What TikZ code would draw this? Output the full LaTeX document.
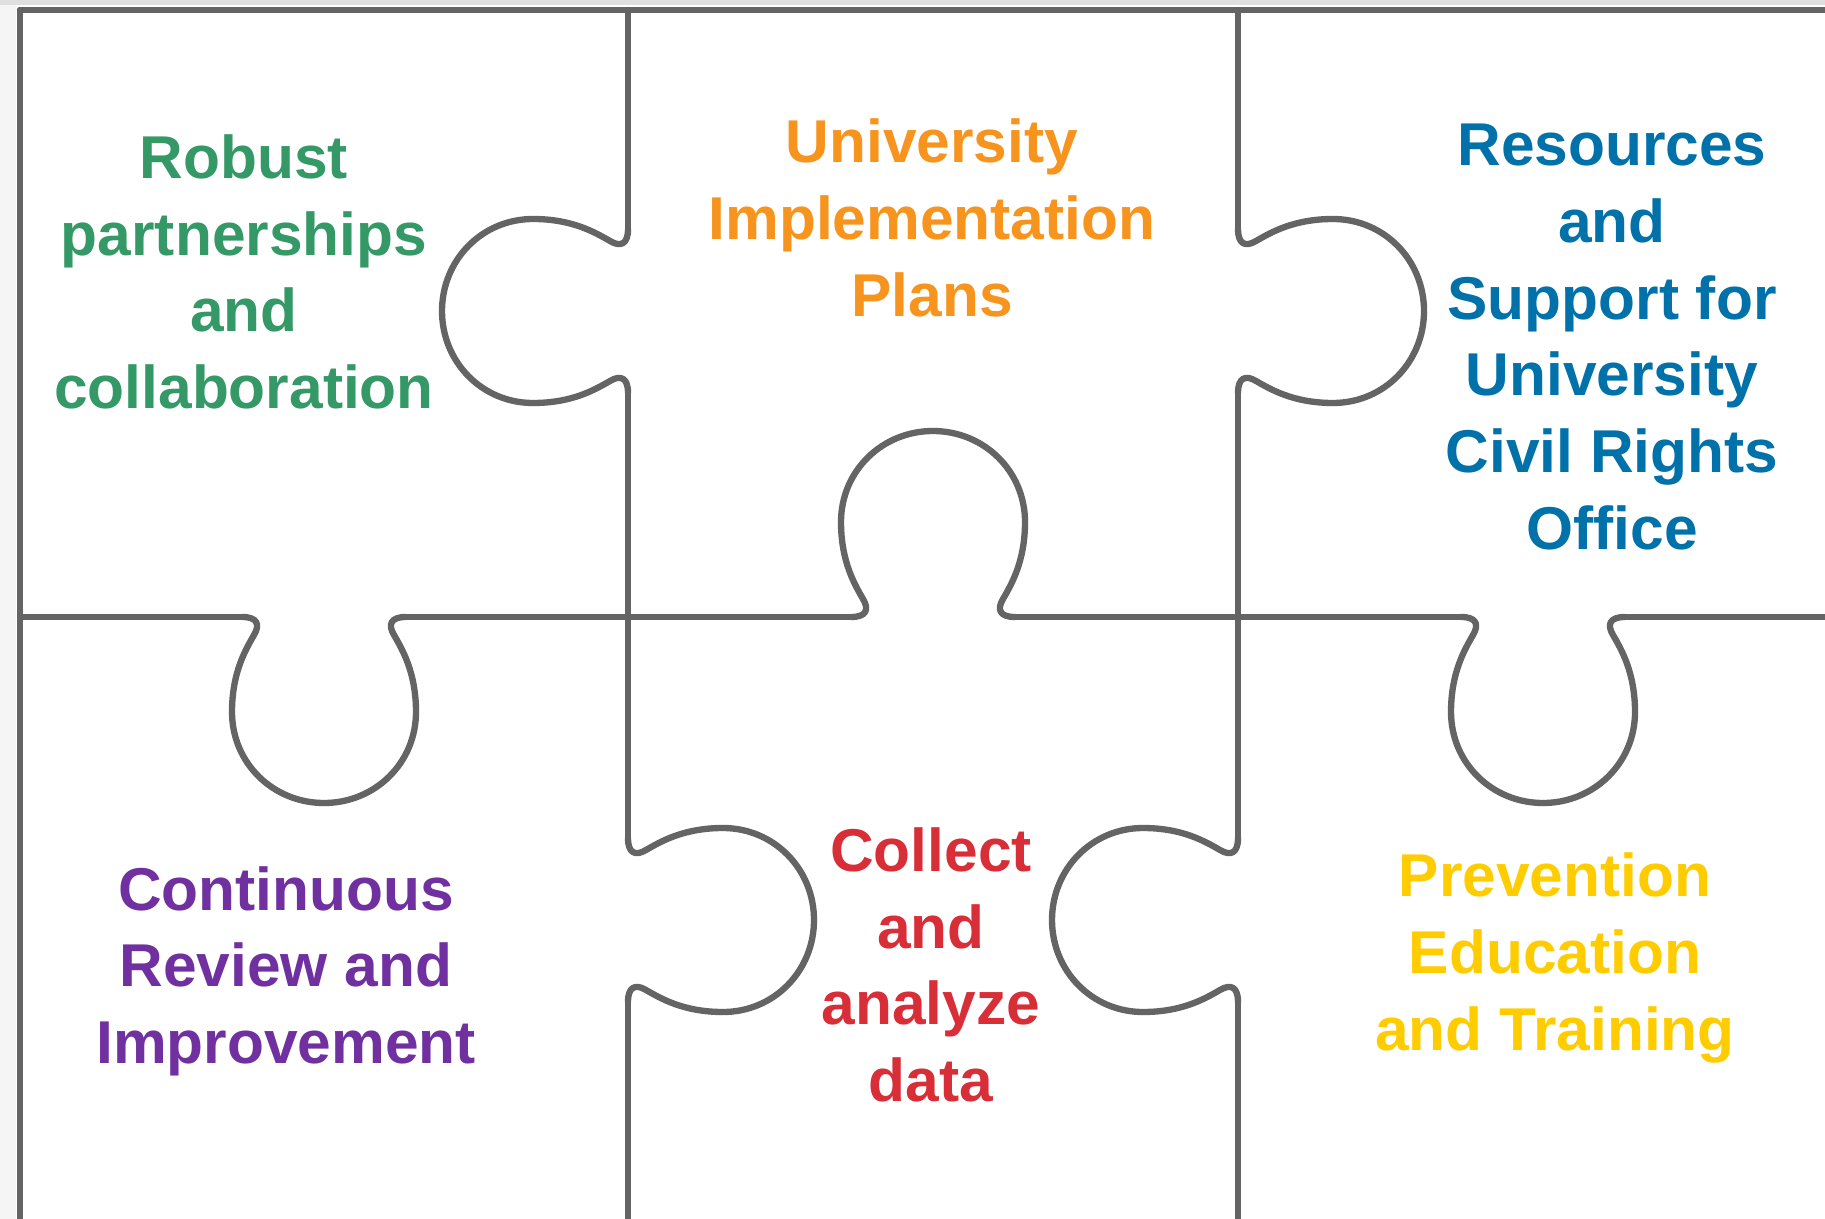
\documentclass[tikz,border=0pt]{standalone}
\usepackage{fontspec}
\setmainfont{Liberation Sans}
\definecolor{edge}{RGB}{100,100,100}
\definecolor{teamgreen}{RGB}{52,153,102}
\definecolor{planorange}{RGB}{247,148,30}
\definecolor{officeblue}{RGB}{0,113,169}
\definecolor{reviewpurple}{RGB}{112,48,160}
\definecolor{datared}{RGB}{216,46,56}
\definecolor{trainyellow}{RGB}{255,204,0}

\begin{document}
\begin{tikzpicture}
    \tikzstyle{line} = [draw, edge, line width=1.8pt, line cap=round, line join=round]
    \tikzstyle{word} = [align=center, inner sep=0pt,
        font=\fontsize{17.2}{21.8}\selectfont\bfseries]

    \useasboundingbox (0,0) rectangle (18.25,-12.19);
    \fill [white] (0,0) rectangle (18.25,-12.19);
    \fill [gray!8] (0,0) rectangle (0.16,-12.19);
    \fill [gray!25] (0,0) rectangle (18.25,-0.05);
    %
    \coordinate (tl) at (0.2,-0.1);
    \coordinate [right of=tl, node distance=6.08cm] (t1);
    \coordinate [right of=t1, node distance=6.1cm] (t2);
    \coordinate [right of=tl, node distance=18.05cm] (tr);
    \coordinate [below of=tl, node distance=6.07cm] (ml);
    \coordinate [below of=t1, node distance=6.07cm] (m1);
    \coordinate [below of=t2, node distance=6.07cm] (m2);
    \coordinate [right of=ml, node distance=18.05cm] (mr);
    \coordinate [below of=tl, node distance=12.09cm] (bl);
    \coordinate [below of=t1, node distance=12.09cm] (b1);
    \coordinate [below of=t2, node distance=12.09cm] (b2);
    %
    \coordinate [below of=t1, node distance=3.01cm] (k1);
    \coordinate [below of=t2, node distance=3.01cm] (k2);
    \coordinate [right of=m1, node distance=3.05cm] (k3);
    \coordinate [right of=ml, node distance=3.04cm] (k4);
    \coordinate [right of=m2, node distance=3.05cm] (k5);
    \coordinate [below of=m1, node distance=3.03cm] (k6);
    \coordinate [below of=m2, node distance=3.03cm] (k7);
    %
    \coordinate [above of=k1, node distance=.82cm] (k1a);
    \coordinate [below of=k1, node distance=.82cm] (k1b);
    \coordinate [above of=k2, node distance=.82cm] (k2a);
    \coordinate [below of=k2, node distance=.82cm] (k2b);
    \coordinate [left of=k3, node distance=.82cm] (k3a);
    \coordinate [right of=k3, node distance=.82cm] (k3b);
    \coordinate [left of=k4, node distance=.82cm] (k4a);
    \coordinate [right of=k4, node distance=.82cm] (k4b);
    \coordinate [left of=k5, node distance=.82cm] (k5a);
    \coordinate [right of=k5, node distance=.82cm] (k5b);
    \coordinate [above of=k6, node distance=.82cm] (k6a);
    \coordinate [below of=k6, node distance=.82cm] (k6b);
    \coordinate [above of=k7, node distance=.82cm] (k7a);
    \coordinate [below of=k7, node distance=.82cm] (k7b);
    %
    \path [line] (tl) -- (tr);
    \path [line] (tl) -- (bl);
    \path [line] (t1) -- (k1a);
    \path [line] (k1b) -- (k6a);
    \path [line] (k6b) -- (b1);
    \path [line] (t2) -- (k2a);
    \path [line] (k2b) -- (k7a);
    \path [line] (k7b) -- (b2);
    \path [line] (ml) -- (k4a);
    \path [line] (k4b) -- (k3a);
    \path [line] (k3b) -- (k5a);
    \path [line] (k5b) -- (mr);
    %
    \path [line, shift={(k1)}, rotate=90] (-.82,0) .. controls (-.66,0) and (-.64,.08) .. (-.70,.18)
        .. controls (-.78,.32) and (-.92,.55) .. (-.92,.95) .. controls (-.92,1.46) and (-.51,1.86) .. (0,1.86)
        .. controls (.51,1.86) and (.92,1.46) .. (.92,.95) .. controls (.92,.55) and (.78,.32) .. (.70,.18)
        .. controls (.64,.08) and (.66,0) .. (.82,0);
    \path [line, shift={(k2)}, rotate=-90] (-.82,0) .. controls (-.66,0) and (-.64,.08) .. (-.70,.18)
        .. controls (-.78,.32) and (-.92,.55) .. (-.92,.95) .. controls (-.92,1.46) and (-.51,1.86) .. (0,1.86)
        .. controls (.51,1.86) and (.92,1.46) .. (.92,.95) .. controls (.92,.55) and (.78,.32) .. (.70,.18)
        .. controls (.64,.08) and (.66,0) .. (.82,0);
    \path [line, shift={(k3)}] (-.82,0) .. controls (-.66,0) and (-.64,.08) .. (-.70,.18)
        .. controls (-.78,.32) and (-.92,.55) .. (-.92,.95) .. controls (-.92,1.46) and (-.51,1.86) .. (0,1.86)
        .. controls (.51,1.86) and (.92,1.46) .. (.92,.95) .. controls (.92,.55) and (.78,.32) .. (.70,.18)
        .. controls (.64,.08) and (.66,0) .. (.82,0);
    \path [line, shift={(k4)}, rotate=180] (-.82,0) .. controls (-.66,0) and (-.64,.08) .. (-.70,.18)
        .. controls (-.78,.32) and (-.92,.55) .. (-.92,.95) .. controls (-.92,1.46) and (-.51,1.86) .. (0,1.86)
        .. controls (.51,1.86) and (.92,1.46) .. (.92,.95) .. controls (.92,.55) and (.78,.32) .. (.70,.18)
        .. controls (.64,.08) and (.66,0) .. (.82,0);
    \path [line, shift={(k5)}, rotate=180] (-.82,0) .. controls (-.66,0) and (-.64,.08) .. (-.70,.18)
        .. controls (-.78,.32) and (-.92,.55) .. (-.92,.95) .. controls (-.92,1.46) and (-.51,1.86) .. (0,1.86)
        .. controls (.51,1.86) and (.92,1.46) .. (.92,.95) .. controls (.92,.55) and (.78,.32) .. (.70,.18)
        .. controls (.64,.08) and (.66,0) .. (.82,0);
    \path [line, shift={(k6)}, rotate=-90] (-.82,0) .. controls (-.66,0) and (-.64,.08) .. (-.70,.18)
        .. controls (-.78,.32) and (-.92,.55) .. (-.92,.95) .. controls (-.92,1.46) and (-.51,1.86) .. (0,1.86)
        .. controls (.51,1.86) and (.92,1.46) .. (.92,.95) .. controls (.92,.55) and (.78,.32) .. (.70,.18)
        .. controls (.64,.08) and (.66,0) .. (.82,0);
    \path [line, shift={(k7)}, rotate=90] (-.82,0) .. controls (-.66,0) and (-.64,.08) .. (-.70,.18)
        .. controls (-.78,.32) and (-.92,.55) .. (-.92,.95) .. controls (-.92,1.46) and (-.51,1.86) .. (0,1.86)
        .. controls (.51,1.86) and (.92,1.46) .. (.92,.95) .. controls (.92,.55) and (.78,.32) .. (.70,.18)
        .. controls (.64,.08) and (.66,0) .. (.82,0);
    %
    \node [word, text=teamgreen] (partner) at (2.44,-2.72) {Robust\\partnerships\\and\\collaboration};
    \node [word, text=planorange] (plans) at (9.32,-2.18) {University\\Implementation\\Plans};
    \node [word, text=officeblue] (office) at (16.12,-3.37) {Resources\\and\\Support for\\University\\Civil Rights\\Office};
    \node [word, text=reviewpurple] (review) at (2.86,-9.71) {Continuous\\Review and\\Improvement};
    \node [word, text=datared] (data) at (9.31,-9.65) {Collect\\and\\analyze\\data};
    \node [word, text=trainyellow] (training) at (15.55,-9.58) {Prevention\\Education\\and Training};

\end{tikzpicture}
\end{document}
